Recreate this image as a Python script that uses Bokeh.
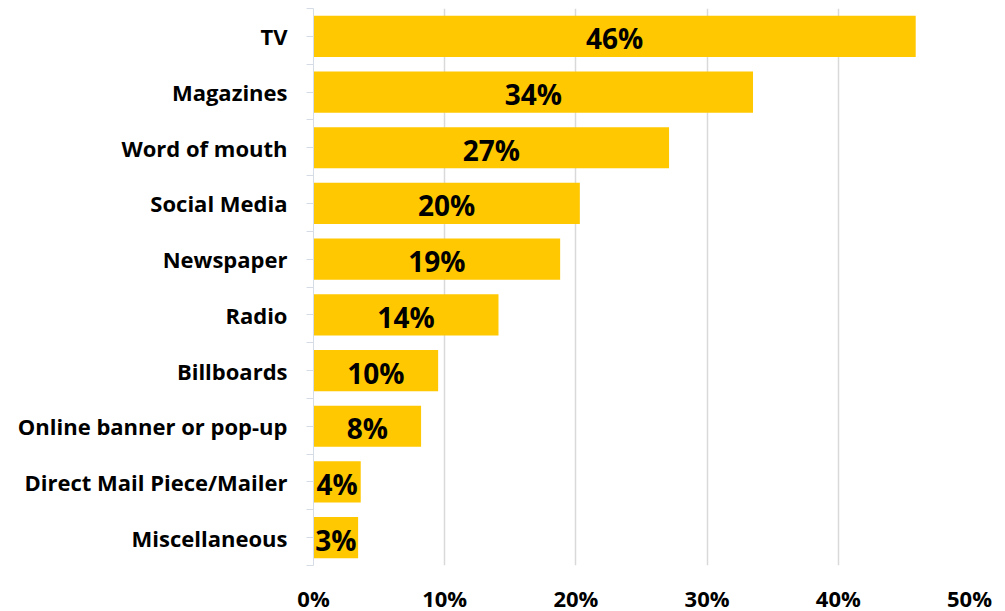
from bokeh.plotting import figure
from bokeh.models import ColumnDataSource, Range1d, FixedTicker, PrintfTickFormatter
from bokeh.core.properties import value
from bokeh.embed import file_html
from bokeh.resources import INLINE

categories = ["TV", "Magazines", "Word of mouth", "Social Media", "Newspaper", "Radio",
              "Billboards", "Online banner or pop-up", "Direct Mail Piece/Mailer", "Miscellaneous"]
values = [45.9, 33.5, 27.1, 20.3, 18.8, 14.1, 9.5, 8.2, 3.6, 3.4]
labels = ["46%", "34%", "27%", "20%", "19%", "14%", "10%", "8%", "4%", "3%"]
x_ticks = [0, 10, 20, 30, 40, 50]

FONT = "Open Sans"
n = len(categories)
ypos = list(range(n))

src = ColumnDataSource(dict(y=ypos, v=values, mid=[v / 2 for v in values], lab=labels))

p = figure(frame_width=656, frame_height=557, output_backend="svg", toolbar_location=None,
           x_range=Range1d(0, 50), y_range=Range1d(n - 0.5, -0.5),
           min_border_left=313, min_border_right=36, min_border_top=8, min_border_bottom=0)
p.outline_line_color = None
p.background_fill_color = "white"

p.hbar(y="y", right="v", left=0, height=0.74, source=src, color="#FFC800", line_color=None)
p.text(x="mid", y="y", text="lab", source=src, text_align="center", text_baseline="middle",
       y_offset=2,
       text_font=value(FONT), text_font_style="bold", text_font_size="28px", text_color="black")

# x axis
p.xaxis.ticker = FixedTicker(ticks=x_ticks)
p.xaxis.formatter = PrintfTickFormatter(format="%d%%")
p.xaxis.axis_line_color = None
p.xaxis.major_tick_line_color = None
p.xaxis.minor_tick_line_color = None
p.xaxis.major_tick_out = 0
p.xaxis.minor_tick_out = 0
p.xaxis.major_label_text_font = FONT
p.xaxis.major_label_text_font_style = "bold"
p.xaxis.major_label_text_font_size = "22px"
p.xaxis.major_label_text_color = "black"
p.xaxis.major_label_standoff = 17

# y axis
p.yaxis.ticker = FixedTicker(ticks=ypos, minor_ticks=[i - 0.5 for i in range(n + 1)])
p.yaxis.major_label_overrides = {i: c for i, c in enumerate(categories)}
p.yaxis.axis_line_color = "#D6DCE5"
p.yaxis.major_tick_line_color = "#D6DCE5"
p.yaxis.minor_tick_line_color = "#D6DCE5"
p.yaxis.major_tick_in = 0
p.yaxis.major_tick_out = 7
p.yaxis.minor_tick_in = 0
p.yaxis.minor_tick_out = 7
p.yaxis.major_label_text_font = FONT
p.yaxis.major_label_text_font_style = "bold"
p.yaxis.major_label_text_font_size = "22px"
p.yaxis.major_label_text_color = "black"
p.yaxis.major_label_standoff = 19

p.ygrid.grid_line_color = None
p.xgrid.grid_line_color = "#D9D9D9"
p.xgrid.grid_line_width = 1.5

open("out.html", "w").write(file_html(p, INLINE))
